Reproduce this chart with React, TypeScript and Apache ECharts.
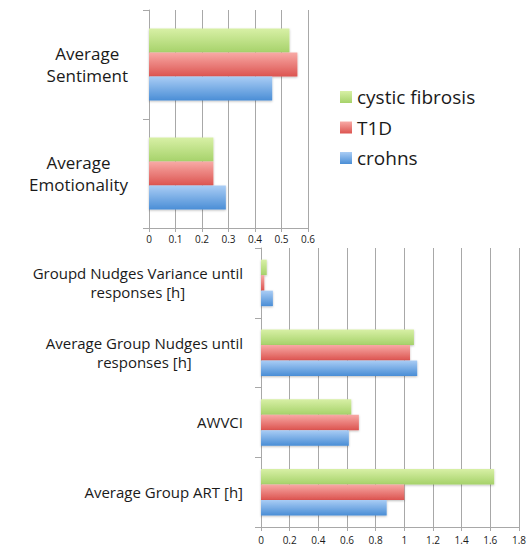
import React, { useEffect, useRef } from "react";
import * as echarts from "echarts";

const seriesNames = ["cystic fibrosis", "T1D", "crohns"];

const topCategories = ["Average\nSentiment", "Average\nEmotionality"];
const topCF = [0.53, 0.243];
const topT1D = [0.56, 0.243];
const topCrohns = [0.465, 0.29];

const bottomCategories = [
  "Groupd Nudges Variance until\nresponses [h]",
  "Average Group Nudges until\nresponses [h]",
  "AWVCI",
  "Average Group ART [h]",
];
const bottomCF = [0.04, 1.067, 0.63, 1.627];
const bottomT1D = [0.023, 1.04, 0.683, 1.0];
const bottomCrohns = [0.083, 1.09, 0.613, 0.877];

const FONT = "'Open Sans', Lato, sans-serif";

const grad = (top: string, bottom: string) =>
  new echarts.graphic.LinearGradient(0, 0, 0, 1, [
    { offset: 0, color: top },
    { offset: 1, color: bottom },
  ]);

const colors = [
  ["#d8f0a6", "#a6d26a"],
  ["#f8aaa6", "#dc5450"],
  ["#aacdf5", "#4a8ed6"],
];

const catLabel = (fontSize: number, lineHeight: number, margin: number) => ({
  align: "right" as const,
  margin,
  formatter: (v: string) =>
    v
      .split("\n")
      .map((l) => `{c|${l}}`)
      .join("\n"),
  rich: {
    c: {
      align: "center",
      fontSize,
      lineHeight,
      fontFamily: FONT,
      color: "#1a1a1a",
    },
  },
});

export default function App() {
  const ref = useRef<HTMLDivElement>(null);
  useEffect(() => {
    if (!ref.current) return;
    const chart = echarts.init(ref.current, undefined, { renderer: "svg" });
    const gridColor = "#a8a8a8";
    const valueAxis = (gridIndex: number, max: number, interval: number, margin: number) => ({
      type: "value" as const,
      gridIndex,
      min: 0,
      max,
      interval,
      axisLine: { show: true, lineStyle: { color: gridColor } },
      axisTick: { show: true, length: 4, lineStyle: { color: gridColor } },
      splitLine: { show: true, lineStyle: { color: gridColor, width: 1 } },
      axisLabel: { fontSize: 10, fontFamily: FONT, color: "#1a1a1a", margin },
    });
    const catAxis = (gridIndex: number, data: string[], fs: number, lh: number, margin: number) => ({
      type: "category" as const,
      gridIndex,
      data,
      inverse: true,
      axisLine: { show: true, lineStyle: { color: gridColor } },
      axisTick: { show: true, length: 6, lineStyle: { color: gridColor } },
      axisLabel: catLabel(fs, lh, margin),
    });
    const mk = (i: number, data: number[], axis: number, barWidth: number) => ({
      name: seriesNames[i],
      type: "bar" as const,
      xAxisIndex: axis,
      yAxisIndex: axis,
      data,
      barWidth,
      barGap: "0%",
      itemStyle: {
        color: grad(colors[i][0], colors[i][1]),
        shadowColor: "rgba(0,0,0,0.25)",
        shadowBlur: 2,
        shadowOffsetY: 1,
      },
    });
    chart.setOption({
      animation: false,
      backgroundColor: "#ffffff",
      grid: [
        { left: 149, top: 10, width: 159, height: 218 },
        { left: 261, top: 248, width: 259, height: 279 },
      ],
      xAxis: [valueAxis(0, 0.6, 0.1, 6), valueAxis(1, 1.8, 0.2, 8)],
      yAxis: [
        catAxis(0, topCategories, 17, 22, 21),
        catAxis(1, bottomCategories, 15, 19, 18),
      ],
      legend: {
        orient: "vertical",
        left: 335,
        top: 80,
        itemWidth: 12,
        itemHeight: 12,
        itemGap: 6.5,
        icon: "rect",
        data: seriesNames,
        textStyle: { fontSize: 19, lineHeight: 24, fontFamily: FONT, color: "#1a1a1a" },
      },
      series: [
        mk(0, topCF, 0, 24),
        mk(1, topT1D, 0, 24),
        mk(2, topCrohns, 0, 24),
        mk(0, bottomCF, 1, 15.5),
        mk(1, bottomT1D, 1, 15.5),
        mk(2, bottomCrohns, 1, 15.5),
      ],
    });
    return () => chart.dispose();
  }, []);
  return (
    <div
      ref={ref}
      style={{ position: "fixed", left: 0, top: 0, width: 529, height: 546 }}
    />
  );
}
